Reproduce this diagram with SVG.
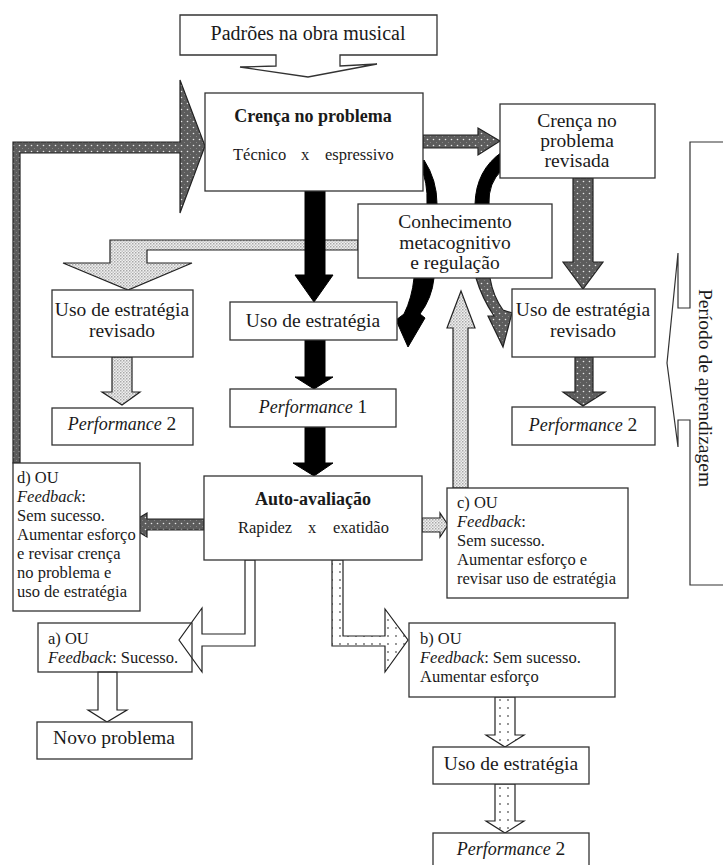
<svg xmlns="http://www.w3.org/2000/svg" width="723" height="865" viewBox="0 0 723 865">
<defs>
<pattern id="dk" width="6" height="6" patternUnits="userSpaceOnUse"><rect width="6" height="6" fill="#5c5c5c"/><circle cx="1.5" cy="1.5" r="0.8" fill="#e6e6e6"/><circle cx="4.5" cy="4.5" r="0.6" fill="#8c8c8c"/></pattern>
<pattern id="lt" width="3" height="3" patternUnits="userSpaceOnUse"><rect width="3" height="3" fill="#f0f0f0"/><rect width="1.5" height="1.5" fill="#a8a8a8"/><rect x="1.5" y="1.5" width="1.5" height="1.5" fill="#c4c4c4"/></pattern>
<pattern id="wd" width="8" height="8" patternUnits="userSpaceOnUse"><rect width="8" height="8" fill="#fff"/><circle cx="4" cy="4" r="0.9" fill="#666"/></pattern>
</defs>
<style>
.box{fill:#fff;stroke:#333;stroke-width:1.3}
.t{font-family:"Liberation Serif",serif;font-size:19.5px;fill:#1a1a1a}
.m{text-anchor:middle}
.s{font-size:16.5px}
.b{font-weight:bold;font-size:18px}
.i{font-style:italic}
.ar{stroke:#222;stroke-width:1.2;stroke-linejoin:miter}
.dk{fill:url(#dk)}
.lt{fill:url(#lt)}
.wd{fill:url(#wd)}
.bk{fill:#000;stroke:#000;stroke-width:1}
.wh{fill:#fff}
.no{fill:none}
</style>
<rect width="723" height="865" fill="#fff"/>

<g id="connectors">
  <!-- black curves around Conhecimento -->
  <path class="bk" d="M420 165 Q428 182 427 204 L437 204 Q437 180 424 160 Z"/>
  <path class="bk" d="M475 204 Q476 170 502 152 L502 170 Q488 183 489 204 Z"/>
  <path class="bk" d="M414 278 L434 278 Q432 298 420 314 L425 318 L408 347 L396 320 L404 314 Q412 298 414 278 Z"/>
  <path class="ar dk" d="M476 278 L490 278 Q493 296 503 310 L512 313 L503 347 L488 316 L494 316 Q482 298 476 278 Z"/>
  <!-- feedback loop d) -> Crença -->
  <polygon class="ar dk" points="13,463 13,142 180,142 180,80 205,146 180,213 180,153 20,153 20,463"/>
  <!-- Crença -> revisada -->
  <polygon class="ar dk" points="423,135 478,135 478,128 500,141 478,155 478,148 423,148"/>
  <!-- revisada -> revisado -->
  <polygon class="ar dk" points="573,178 573,262 563,262 583,289 603,262 593,262 593,178"/>
  <!-- revisado -> Performance 2 right -->
  <polygon class="ar dk" points="575,357 575,392 563,392 583,406 605,392 593,392 593,357"/>
  <!-- Auto -> d) -->
  <polygon class="ar dk" points="204,519 147,519 147,513 127,525 147,537 147,530 204,530"/>
  <!-- Conhecimento -> left revisado -->
  <polygon class="ar lt" points="358,240 110,240 110,263 63,263 128,290 192,263 147,263 147,250 358,250"/>
  <!-- left revisado -> Performance 2 -->
  <polygon class="ar lt" points="112,357 112,392 102,392 122,405 140,392 132,392 132,357"/>
  <!-- Auto -> c) -->
  <polygon class="ar lt" points="422,518 440,518 440,513 448,525 440,537 440,532 422,532"/>
  <!-- c) -> Conhecimento -->
  <polygon class="ar lt" points="453,488 453,328 447,328 461,291 475,328 468,328 468,488"/>
  <!-- black main chain -->
  <polygon class="bk" points="305,191 305,275 295,275 314,302 333,275 325,275 325,191"/>
  <polygon class="bk" points="305,340 305,377 295,377 314,389 333,377 325,377 325,340"/>
  <polygon class="bk" points="305,427 305,463 293,463 314,476 333,463 325,463 325,427"/>
  <!-- Auto -> a) -->
  <polygon class="ar wh" points="245,560 245,634 202,634 202,608 179,640 202,672 202,646 255,646 255,560"/>
  <!-- a) -> Novo problema -->
  <polygon class="ar wh" points="98,672 98,710 88,710 107,722 127,710 117,710 117,672"/>
  <!-- Auto -> b) -->
  <polygon class="ar wd" points="332,560 332,646 385,646 385,672 408,640 385,609 385,636 343,636 343,560"/>
  <!-- b) -> Uso -->
  <polygon class="ar wd" points="495,697 495,735 486,735 505,747 524,735 515,735 515,697"/>
  <!-- Uso -> Performance 2 bottom -->
  <polygon class="ar wd" points="495,784 495,821 486,821 505,833 524,821 515,821 515,784"/>
</g>

<g id="padroes">
  <path class="box" d="M180 15 H437 V55 H340 V66 L377 64 L308 77 L240 67 L276 66 V55 H180 Z"/>
  <text class="t m" x="308" y="40" style="font-size:20px">Padrões na obra musical</text>
</g>

<g id="crenca">
  <rect class="box" x="205" y="93" width="218" height="98"/>
  <text class="t m b" x="313" y="122">Crença no problema</text>
  <text class="t s" x="233" y="160">Técnico</text>
  <text class="t s" x="301" y="160">x</text>
  <text class="t s" x="325" y="160">espressivo</text>
</g>

<g id="crenca-revisada">
  <rect class="box" x="500" y="104" width="155" height="74"/>
  <text class="t m" x="577" y="127">Crença no</text>
  <text class="t m" x="577" y="147">problema</text>
  <text class="t m" x="577" y="167">revisada</text>
</g>

<g id="conhecimento">
  <rect class="box" x="358" y="204" width="194" height="74"/>
  <text class="t m" x="455" y="228">Conhecimento</text>
  <text class="t m" x="455" y="249">metacognitivo</text>
  <text class="t m" x="455" y="269">e regulação</text>
</g>

<g id="uso-revisado-esq">
  <rect class="box" x="52" y="290" width="141" height="67"/>
  <text class="t m" x="122" y="316">Uso de estratégia</text>
  <text class="t m" x="122" y="337">revisado</text>
</g>

<g id="perf2-esq">
  <rect class="box" x="52" y="408" width="141" height="37"/>
  <text class="t m" x="122" y="430"><tspan class="i" style="font-size:18px">Performance</tspan> 2</text>
</g>

<g id="uso">
  <rect class="box" x="230" y="302" width="167" height="38"/>
  <text class="t m" x="313" y="327">Uso de estratégia</text>
</g>

<g id="perf1">
  <rect class="box" x="230" y="389" width="166" height="38"/>
  <text class="t m" x="313" y="413"><tspan class="i" style="font-size:18px">Performance</tspan> 1</text>
</g>

<g id="uso-revisado-dir">
  <rect class="box" x="512" y="289" width="143" height="68"/>
  <text class="t m" x="583" y="316">Uso de estratégia</text>
  <text class="t m" x="583" y="337">revisado</text>
</g>

<g id="perf2-dir">
  <rect class="box" x="512" y="407" width="143" height="38"/>
  <text class="t m" x="583" y="431"><tspan class="i" style="font-size:18px">Performance</tspan> 2</text>
</g>

<g id="auto">
  <rect class="box" x="204" y="476" width="218" height="84"/>
  <text class="t m b" x="313" y="505">Auto-avaliação</text>
  <text class="t s" x="238" y="533">Rapidez</text>
  <text class="t s" x="308" y="533">x</text>
  <text class="t s" x="333" y="533">exatidão</text>
</g>

<g id="d">
  <rect class="box" x="13" y="463" width="127" height="148"/>
  <text class="t s" x="17" y="483">d) OU</text>
  <text class="t s" x="17" y="502"><tspan class="i">Feedback</tspan>:</text>
  <text class="t s" x="17" y="521">Sem sucesso.</text>
  <text class="t s" x="17" y="540">Aumentar esforço</text>
  <text class="t s" x="17" y="559">e revisar crença</text>
  <text class="t s" x="17" y="578">no problema e</text>
  <text class="t s" x="17" y="597">uso de estratégia</text>
</g>

<g id="c">
  <rect class="box" x="447" y="488" width="181" height="110"/>
  <text class="t s" x="457" y="508">c) OU</text>
  <text class="t s" x="457" y="527"><tspan class="i">Feedback</tspan>:</text>
  <text class="t s" x="457" y="546">Sem sucesso.</text>
  <text class="t s" x="457" y="565">Aumentar esforço e</text>
  <text class="t s" x="457" y="584">revisar uso de estratégia</text>
</g>

<g id="a">
  <rect class="box no" x="38" y="623" width="154" height="49"/>
  <text class="t s" x="48" y="644">a) OU</text>
  <text class="t s" x="48" y="663"><tspan class="i">Feedback</tspan>: Sucesso.</text>
</g>

<g id="novo">
  <rect class="box" x="37" y="722" width="155" height="37"/>
  <text class="t m" x="114" y="744">Novo problema</text>
</g>

<g id="b">
  <rect class="box" x="409" y="623" width="206" height="74"/>
  <text class="t s" x="420" y="644">b) OU</text>
  <text class="t s" x="420" y="663"><tspan class="i">Feedback</tspan>: Sem sucesso.</text>
  <text class="t s" x="420" y="682">Aumentar esforço</text>
</g>

<g id="uso-b">
  <rect class="box" x="433" y="747" width="156" height="37"/>
  <text class="t m" x="511" y="770">Uso de estratégia</text>
</g>

<g id="perf2-b">
  <rect class="box" x="433" y="833" width="156" height="36"/>
  <text class="t m" x="511" y="855"><tspan class="i" style="font-size:18px">Performance</tspan> 2</text>
</g>

<g id="periodo">
  <polyline fill="none" stroke="#333" stroke-width="1.2" points="724,142 690,142 690,308 678,308 678,253 667,363 678,447 678,420 690,420 690,585 724,585"/>
  <text class="t m" transform="translate(699,388) rotate(90)">Período de aprendizagem</text>
</g>
</svg>
